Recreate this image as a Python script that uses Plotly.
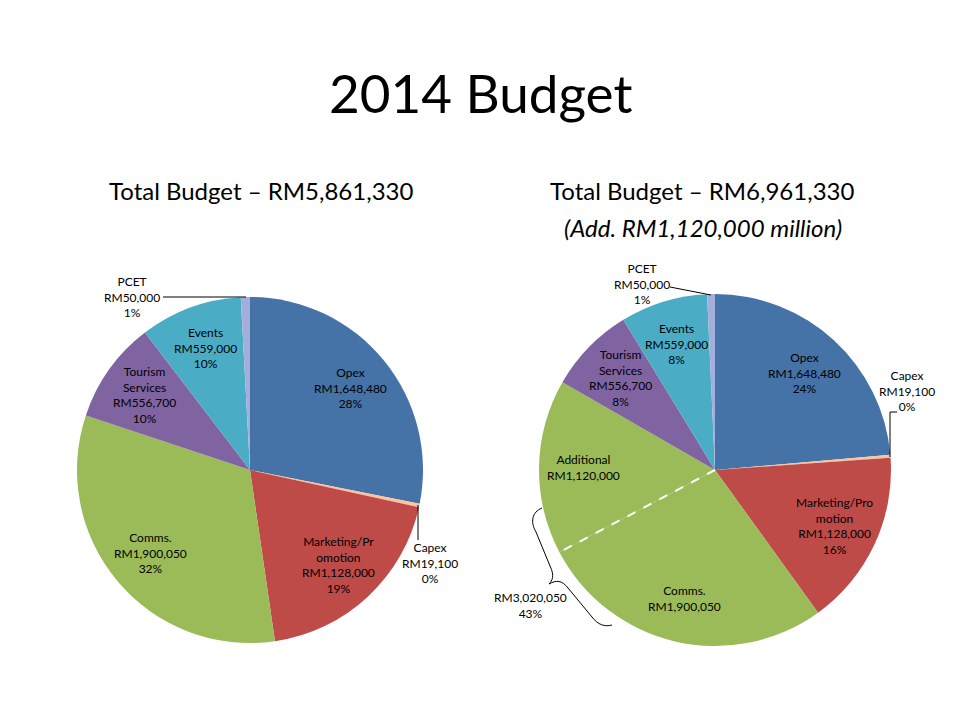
import math
import plotly.graph_objects as go

W, H = 960, 720
OFF = 8  # the page body margin pushes the plot 8px right and down

# left pie: original budget
left_labels = ["Opex", "Capex", "Marketing/Pr<br>omotion", "Comms.", "Tourism<br>Services", "Events", "PCET"]
left_values = [1648480, 19100, 1128000, 1900050, 556700, 559000, 50000]
left_pcts = ["28%", "0%", "19%", "32%", "10%", "10%", "1%"]

# right pie: with the additional allocation split out of Comms.
right_labels = ["Opex", "Capex", "Marketing/Pro<br>motion", "Comms.", "Additional", "Tourism<br>Services", "Events", "PCET"]
right_values = [1648480, 19100, 1128000, 1900050, 1120000, 556700, 559000, 50000]
right_pcts = ["24%", "0%", "16%", "", "", "8%", "8%", "1%"]

combined_value = 3020050
combined_pct = "43%"

BLUE, ORANGE, RED, GREEN = "#4572A7", "#F9C49E", "#BE4B48", "#9BBB59"
PURPLE, CYAN, LAV = "#8064A2", "#4BACC6", "#A3AEDB"
left_colors = [BLUE, ORANGE, RED, GREEN, PURPLE, CYAN, LAV]
right_colors = [BLUE, ORANGE, RED, GREEN, GREEN, PURPLE, CYAN, LAV]

FONT = "Lato, 'Open Sans', sans-serif"


def px(x, y):
    return (x - OFF) / W, 1 - (y - OFF) / H


# pie geometry in pixels (centre x, centre y, radius)
LC = (250, 470, 173)
RC = (715, 470, 176)


def domain(c):
    cx, cy, r = c
    x0, y0 = px(cx - r, cy + r)
    x1, y1 = px(cx + r, cy - r)
    return dict(x=[x0, x1], y=[y0, y1])


fig = go.Figure()
for labels, values, colors, c in [(left_labels, left_values, left_colors, LC),
                                  (right_labels, right_values, right_colors, RC)]:
    fig.add_trace(go.Pie(
        labels=labels, values=values, sort=False, direction="clockwise", rotation=0,
        marker=dict(colors=colors, line=dict(width=0)),
        textinfo="none", domain=domain(c), hoverinfo="skip", showlegend=False,
    ))

annotations = []
shapes = []


def note(x, y, text, size=12, italic=False):
    ax, ay = px(x, y)
    annotations.append(dict(
        x=ax, y=ay, xref="paper", yref="paper", text=text, showarrow=False,
        xanchor="center", yanchor="middle", align="center",
        font=dict(family=FONT, size=size, color="black",
                  style="italic" if italic else "normal"),
    ))


def line(points, color="black", width=1, dash="solid"):
    path = "M " + " L ".join(f"{px(x, y)[0]},{px(x, y)[1]}" for x, y in points)
    shapes.append(dict(type="path", xref="paper", yref="paper", path=path,
                       line=dict(color=color, width=width, dash=dash)))


def slice_text(labels, values, pcts, i):
    parts = [labels[i], f"RM{values[i]:,}"]
    if pcts[i]:
        parts.append(pcts[i])
    return "<br>".join(parts)


def inside_labels(labels, values, pcts, c, skip):
    cx, cy, r = c
    total = sum(values)
    cum = 0
    for i, v in enumerate(values):
        mid = 2 * math.pi * (cum + v / 2) / total
        cum += v
        if i in skip:
            continue
        note(cx + 0.75 * r * math.sin(mid), cy - 0.75 * r * math.cos(mid),
             slice_text(labels, values, pcts, i))


# titles
note(480, 92, "2014 Budget", size=53)
note(261, 190, "Total Budget – RM5,861,330", size=24)
note(702, 190, "Total Budget – RM6,961,330", size=24)
note(703, 227, "(Add. RM1,120,000 million)", size=24, italic=True)

inside_labels(left_labels, left_values, left_pcts, LC, skip={1, 6})
inside_labels(right_labels, right_values, right_pcts, RC, skip={1, 7})

# small-slice callouts, left pie
note(430, 563, slice_text(left_labels, left_values, left_pcts, 1))
line([(418, 505), (418, 540)])
note(132, 297, slice_text(left_labels, left_values, left_pcts, 6))
line([(163, 297), (246, 297)])

# small-slice callouts, right pie
note(907, 391, slice_text(right_labels, right_values, right_pcts, 1))
line([(890, 457), (890, 412), (897, 412)])
note(642, 284, slice_text(right_labels, right_values, right_pcts, 7))
line([(670, 287), (711, 295)])

# dashed boundary between Comms. and Additional
cx, cy, r = RC
theta = 2 * math.pi * sum(right_values[:4]) / sum(right_values)
line([(cx, cy), (cx + r * math.sin(theta), cy - r * math.cos(theta))],
     color="white", width=2, dash="dash")

# brace around Comms. + Additional
brace = [(542, 508), (532, 512), (530, 522), (536, 532), (550, 566), (555, 576), (552, 581),
         (549, 584), (556, 580), (562, 580), (568, 588), (592, 617), (598, 625), (605, 627), (612, 625)]
p = [px(x, y) for x, y in brace]
d = f"M {p[0][0]},{p[0][1]} C {p[1][0]},{p[1][1]} {p[2][0]},{p[2][1]} {p[3][0]},{p[3][1]} " \
    f"L {p[4][0]},{p[4][1]} C {p[5][0]},{p[5][1]} {p[6][0]},{p[6][1]} {p[7][0]},{p[7][1]} " \
    f"C {p[8][0]},{p[8][1]} {p[9][0]},{p[9][1]} {p[10][0]},{p[10][1]} " \
    f"L {p[11][0]},{p[11][1]} C {p[12][0]},{p[12][1]} {p[13][0]},{p[13][1]} {p[14][0]},{p[14][1]}"
shapes.append(dict(type="path", xref="paper", yref="paper", path=d, line=dict(color="black", width=1)))

note(530, 605, f"RM{combined_value:,}<br>{combined_pct}")

fig.update_layout(
    width=W, height=H,
    margin=dict(l=0, r=0, t=0, b=0),
    paper_bgcolor="white", plot_bgcolor="white",
    showlegend=False,
    annotations=annotations, shapes=shapes,
)

fig.write_html("out.html")
